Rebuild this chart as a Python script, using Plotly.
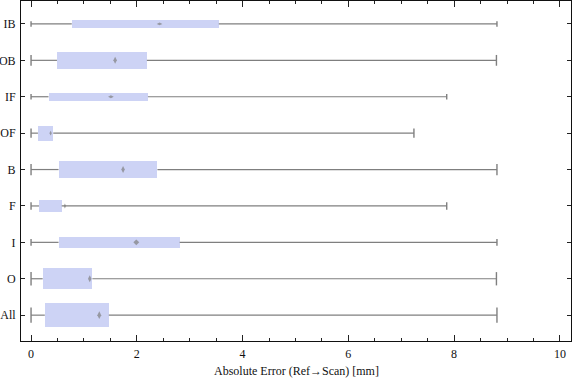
import plotly.graph_objects as go

categories = ["All", "O", "I", "F", "B", "OF", "IF", "OB", "IB"]
whisker_min = [0.0, 0.0, 0.0, 0.0, 0.0, 0.0, 0.0, 0.0, 0.0]
q1 = [0.26, 0.22, 0.52, 0.15, 0.52, 0.13, 0.33, 0.49, 0.77]
median = [1.29, 1.11, 1.99, 0.64, 1.74, 0.37, 1.51, 1.59, 2.43]
q3 = [1.47, 1.16, 2.81, 0.58, 2.39, 0.42, 2.21, 2.19, 3.55]
whisker_max = [8.81, 8.80, 8.81, 7.86, 8.81, 7.24, 7.86, 8.80, 8.81]
# relative box thickness (category units)
box_width = [0.66, 0.58, 0.30, 0.33, 0.49, 0.41, 0.22, 0.47, 0.22]
median_symbol = ["diamond-tall", "diamond-tall", "diamond", "diamond-tall", "diamond-tall",
                 "diamond-tall", "diamond-wide", "diamond-tall", "diamond-wide"]
median_size = [5.5, 5, 4.5, 3.5, 5, 3.5, 4, 5, 4]

GRAY = "#7f7f7f"
FILL = "#cdd3f5"
PX_PER_UNIT = 36.4

pos = list(range(1, len(categories) + 1))

fig = go.Figure()

for i, p in enumerate(pos):
    fig.add_trace(go.Scatter(
        x=[whisker_min[i], q1[i], None, q3[i], whisker_max[i]],
        y=[p, p, None, p, p], mode="lines",
        line=dict(color=GRAY, width=1.2), hoverinfo="skip", showlegend=False))
    cap = max(4, box_width[i] * PX_PER_UNIT * 0.45)
    fig.add_trace(go.Scatter(
        x=[whisker_min[i], whisker_max[i]], y=[p, p], mode="markers",
        marker=dict(symbol="line-ns", size=cap, line=dict(color=GRAY, width=1.4)),
        hoverinfo="skip", showlegend=False))

fig.add_trace(go.Bar(
    y=pos, x=[b - a for a, b in zip(q1, q3)], base=q1, orientation="h",
    width=box_width, marker=dict(color=FILL, line=dict(width=0)),
    showlegend=False))

fig.add_trace(go.Scatter(
    x=median, y=pos, mode="markers",
    marker=dict(symbol=median_symbol, size=median_size,
                color=GRAY, line=dict(width=0)),
    showlegend=False))

axis_font = dict(family="Liberation Serif", size=12, color="#111")

fig.update_layout(
    width=576, height=381,
    margin=dict(l=21, r=5, t=1, b=40, autoexpand=False),
    paper_bgcolor="white", plot_bgcolor="white",
    font=axis_font,
    bargap=0,
    xaxis=dict(
        range=[-0.19, 10.21], tickvals=[0, 2, 4, 6, 8, 10],
        ticks="inside", ticklen=6, tickwidth=1, tickcolor="#222",
        minor=dict(dtick=0.5, tick0=0, ticks="inside", ticklen=3, tickcolor="#222"),
        showline=True, linecolor="#111", linewidth=1, mirror="ticks",
        showgrid=False, zeroline=False, automargin=False,
        tickfont=axis_font, ticklabelstandoff=2,
    ),
    yaxis=dict(
        range=[0.29, 9.63], tickvals=pos, ticktext=categories,
        ticks="inside", ticklen=4, tickcolor="#222",
        showline=True, linecolor="#111", linewidth=1, mirror="ticks",
        showgrid=False, zeroline=False, tickfont=axis_font, automargin=False,
        ticklabelstandoff=2,
    ),
    annotations=[dict(
        text="Absolute Error (Ref\u2192Scan) [mm]", xref="paper", yref="paper",
        x=0.5, y=0, yshift=-30, xanchor="center", yanchor="middle",
        showarrow=False, font=axis_font)],
)

fig.write_html("out.html", config={"displayModeBar": False},
               post_script="document.body.style.margin='0';document.body.style.padding='0';")
